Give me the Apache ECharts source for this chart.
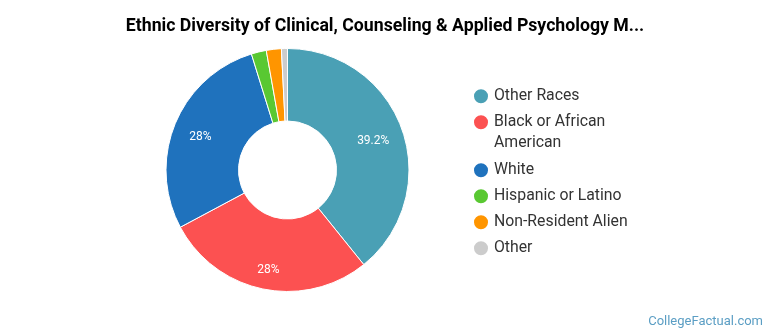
<!DOCTYPE html>
<html><head><meta charset="utf-8">
<script src="https://cdn.jsdelivr.net/npm/echarts@6/dist/echarts.min.js"></script>
<style>html,body{margin:0;padding:0;background:#fff}#c{width:770px;height:335px}</style>
</head><body><div id="c"></div>
<script>
const titleText = 'Ethnic Diversity of Clinical, Counseling & Applied Psychology M...';
const categories = ['Other Races', 'Black or African American', 'White', 'Hispanic or Latino', 'Non-Resident Alien', 'Other'];
const values = [39.2, 28, 28, 2, 2, 0.8];
const colors = ['#4aa0b5', '#fc5151', '#1f72bd', '#59c832', '#ff9500', '#cccccc'];
const watermark = 'CollegeFactual.com';
// small label nudges (style only)
const labelNudge = [[2.5, 0.5], [-1.5, 14], [-5.5, 1], [0, 0], [0, 0], [0, 0]];

const chart = echarts.init(document.getElementById('c'), null, {renderer: 'canvas'});
const font = 'Roboto, sans-serif';
const legendText = {fontFamily: font, fontSize: 15.8, color: '#333', lineHeight: 21};
const legendBase = {orient: 'vertical', left: 472, padding: 0, itemWidth: 16, itemHeight: 16,
  icon: 'circle', selectedMode: false, textStyle: legendText};
const option = {
  animation: false,
  color: colors,
  title: {text: titleText, left: 'center', top: 18, padding: 0,
    textStyle: {fontFamily: font, fontSize: 17.7, fontWeight: 'bold', color: '#000'}},
  legend: [
    Object.assign({}, legendBase, {top: 85.7, data: [categories[0]]}),
    Object.assign({}, legendBase, {top: 90.7, data: [categories[1]],
      formatter: n => n.split('African ').map(s => '{a|' + (s.indexOf('Black') === 0 ? s + 'African' : s) + '}').join('\n'),
      textStyle: Object.assign({}, legendText, {padding: [21, 0, 0, 0],
        rich: {a: {fontFamily: font, fontSize: 15.8, color: '#333', lineHeight: 21}}})}),
    Object.assign({}, legendBase, {top: 159.8, itemGap: 5, data: categories.slice(2)})
  ],
  series: [{
    type: 'pie', center: [287.5, 170], radius: [49, 121.5], startAngle: 90, clockwise: true,
    itemStyle: {borderColor: '#fff', borderWidth: 1},
    label: {position: 'inside', color: '#fff', fontFamily: font, fontSize: 12,
      formatter: p => p.value >= 5 ? p.value + '%' : ''},
    labelLine: {show: false},
    labelLayout: p => ({dx: labelNudge[p.dataIndex][0], dy: labelNudge[p.dataIndex][1]}),
    emphasis: {disabled: true},
    data: categories.map((n, i) => ({name: n, value: values[i]}))
  }],
  graphic: [{type: 'text', right: 7, bottom: 7,
    style: {text: watermark, font: '13px Roboto, sans-serif', fill: '#5b9ec4'}}]
};
chart.setOption(option);
</script></body></html>
